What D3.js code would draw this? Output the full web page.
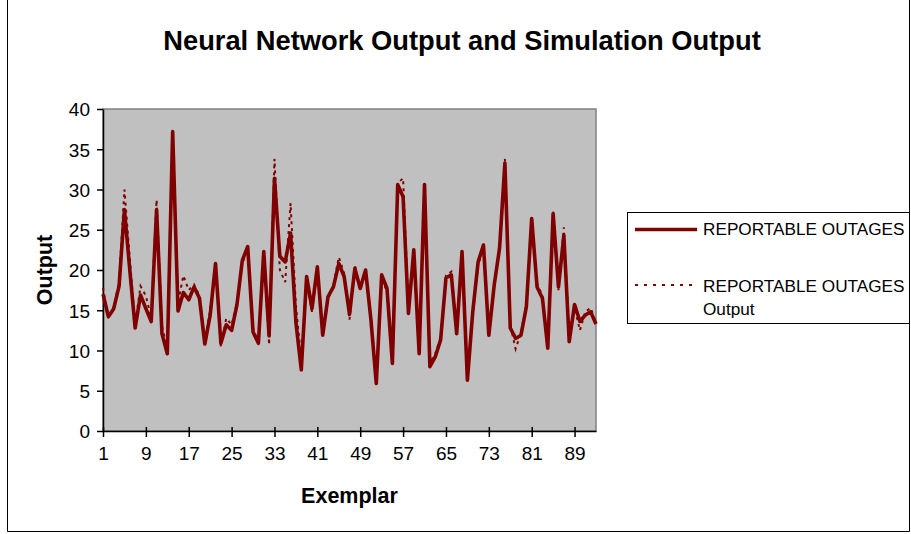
<!DOCTYPE html>
<html>
<head>
<meta charset="utf-8">
<script src="https://cdn.jsdelivr.net/npm/d3@7"></script>
<style>
  html, body { margin: 0; padding: 0; background: #fff; }
  svg { display: block; font-family: "Liberation Sans", Arial, sans-serif; }
</style>
</head>
<body>
<svg id="chart" width="911" height="534"></svg>
<script>
// Exemplar numbers (categories)
const exemplars = d3.range(1, 94);

// Target series: REPORTABLE OUTAGES
const reportableOutages = [
  17.0, 14.2, 15.2, 18.0, 27.5, 20.0, 12.8, 16.9, 15.2, 13.6,
  27.5, 12.1, 9.6, 37.2, 14.9, 17.2, 16.3, 17.9, 16.5, 10.8,
  14.4, 20.8, 10.9, 13.2, 12.5, 15.7, 21.2, 22.9, 12.3, 10.9,
  22.3, 11.8, 31.4, 21.7, 21.0, 24.6, 13.5, 7.6, 19.2, 15.2,
  20.4, 11.9, 16.7, 17.9, 20.8, 19.2, 14.5, 20.2, 17.7, 20.0,
  13.8, 5.9, 19.4, 17.7, 8.4, 30.6, 29.1, 14.6, 22.5, 9.6,
  30.6, 8.0, 9.2, 11.3, 19.0, 19.4, 12.1, 22.3, 6.3, 14.8,
  21.0, 23.1, 11.9, 18.1, 22.7, 33.3, 12.8, 11.5, 11.9, 15.4,
  26.4, 17.9, 16.5, 10.3, 27.0, 17.9, 24.3, 11.1, 15.7, 13.6,
  14.4, 14.8, 13.3
];

// Network series: REPORTABLE OUTAGES Output
const reportableOutagesOutput = [
  17.8, 14.0, 15.4, 18.5, 30.0, 21.5, 13.2, 18.0, 16.8, 14.0,
  28.7, 13.0, 10.3, 36.5, 16.0, 19.3, 17.5, 18.2, 16.8, 11.2,
  15.0, 20.4, 10.5, 14.0, 13.2, 15.9, 20.8, 22.6, 12.8, 10.9,
  21.8, 10.7, 33.8, 20.0, 18.5, 28.3, 15.5, 9.0, 18.7, 14.8,
  20.0, 12.5, 16.4, 18.2, 21.6, 19.6, 13.8, 20.6, 17.5, 19.7,
  14.2, 6.5, 19.0, 17.3, 9.0, 30.8, 31.4, 15.5, 21.8, 10.2,
  29.8, 8.5, 9.6, 11.6, 19.3, 19.8, 12.6, 22.0, 7.0, 14.5,
  20.6, 22.8, 12.3, 17.8, 22.3, 33.8, 13.2, 10.2, 12.2, 15.8,
  25.8, 18.3, 16.8, 10.8, 27.3, 17.5, 25.3, 12.0, 15.4, 12.5,
  14.8, 15.3, 13.4
];

// Axis ticks
const xTickLabels = [1, 9, 17, 25, 33, 41, 49, 57, 65, 73, 81, 89];
const yTickValues = [0, 5, 10, 15, 20, 25, 30, 35, 40];

const seriesNames = ["REPORTABLE OUTAGES", "REPORTABLE OUTAGES Output"];
const lineColor = "#800000";

const svg = d3.select("#chart");

// Chart frame
svg.append("path")
  .attr("d", "M7.5,0 V531.5 H909.5 V0")
  .attr("fill", "none")
  .attr("stroke", "#000")
  .attr("stroke-width", 1);

// Title
svg.append("text")
  .attr("x", 462)
  .attr("y", 50)
  .attr("text-anchor", "middle")
  .attr("font-size", 27.3)
  .attr("font-weight", "bold")
  .text("Neural Network Output and Simulation Output");

const plot = { left: 103, right: 596, top: 109, bottom: 431 };

const x = d3.scaleLinear()
  .domain([exemplars[0], exemplars[exemplars.length - 1]])
  .range([plot.left, plot.right]);

const y = d3.scaleLinear()
  .domain([0, 40])
  .range([plot.bottom, plot.top]);

// Plot area background
svg.append("rect")
  .attr("x", plot.left)
  .attr("y", plot.top)
  .attr("width", plot.right - plot.left)
  .attr("height", plot.bottom - plot.top)
  .attr("fill", "#c0c0c0")
  .attr("stroke", "#808080")
  .attr("stroke-width", 1.5);

// Y axis
const yAxis = svg.append("g")
  .attr("transform", `translate(${plot.left},0)`)
  .call(d3.axisLeft(y).tickValues(yTickValues).tickSize(6).tickPadding(7).tickSizeOuter(0));
yAxis.select(".domain").attr("stroke", "#000").attr("stroke-width", 1.5);
yAxis.selectAll(".tick line").attr("stroke", "#000").attr("stroke-width", 1.5);
yAxis.selectAll(".tick text")
  .attr("font-family", "Liberation Sans, Arial, sans-serif")
  .attr("font-size", 19)
  .attr("fill", "#000")
  .attr("dy", "0.36em");

// X axis
const xAxis = svg.append("g")
  .attr("transform", `translate(0,${plot.bottom})`)
  .call(d3.axisBottom(x).tickValues(xTickLabels).tickFormat(d3.format("d")).tickSize(6).tickPadding(10).tickSizeOuter(0));
xAxis.select(".domain").attr("stroke", "#000").attr("stroke-width", 1.5);
xAxis.selectAll(".tick line").attr("y1", -4).attr("stroke", "#000").attr("stroke-width", 1.5);
xAxis.selectAll(".tick text")
  .attr("font-family", "Liberation Sans, Arial, sans-serif")
  .attr("font-size", 19)
  .attr("fill", "#000");

// Axis titles
svg.append("text")
  .attr("transform", `translate(52,${(plot.top + plot.bottom) / 2}) rotate(-90)`)
  .attr("text-anchor", "middle")
  .attr("font-size", 21.5)
  .attr("font-weight", "bold")
  .text("Output");

svg.append("text")
  .attr("x", (plot.left + plot.right) / 2)
  .attr("y", 503)
  .attr("text-anchor", "middle")
  .attr("font-size", 21.5)
  .attr("font-weight", "bold")
  .text("Exemplar");

// Series lines
const line = d3.line()
  .x((d, i) => x(exemplars[i]))
  .y(d => y(d));

svg.append("path")
  .datum(reportableOutages)
  .attr("d", line)
  .attr("fill", "none")
  .attr("stroke", lineColor)
  .attr("stroke-width", 3.6)
  .attr("stroke-linejoin", "round");

svg.append("path")
  .datum(reportableOutagesOutput)
  .attr("d", line)
  .attr("fill", "none")
  .attr("stroke", lineColor)
  .attr("stroke-width", 2)
  .attr("stroke-dasharray", "3,4");

// Legend
const legend = svg.append("g");
legend.append("rect")
  .attr("x", 627.5)
  .attr("y", 212.5)
  .attr("width", 282)
  .attr("height", 111)
  .attr("fill", "#fff")
  .attr("stroke", "#000")
  .attr("stroke-width", 1);

legend.append("line")
  .attr("x1", 635).attr("x2", 697)
  .attr("y1", 229.5).attr("y2", 229.5)
  .attr("stroke", lineColor)
  .attr("stroke-width", 3.6);

legend.append("line")
  .attr("x1", 635).attr("x2", 697)
  .attr("y1", 285).attr("y2", 285)
  .attr("stroke", lineColor)
  .attr("stroke-width", 2)
  .attr("stroke-dasharray", "3,6");

legend.append("text")
  .attr("x", 703)
  .attr("y", 235)
  .attr("font-size", 17.2)
  .text(seriesNames[0]);

const t2 = legend.append("text")
  .attr("x", 703)
  .attr("y", 291.5)
  .attr("font-size", 17.2);
t2.append("tspan").attr("x", 703).text("REPORTABLE OUTAGES");
t2.append("tspan").attr("x", 703).attr("dy", 23.5).text("Output");
</script>
</body>
</html>
